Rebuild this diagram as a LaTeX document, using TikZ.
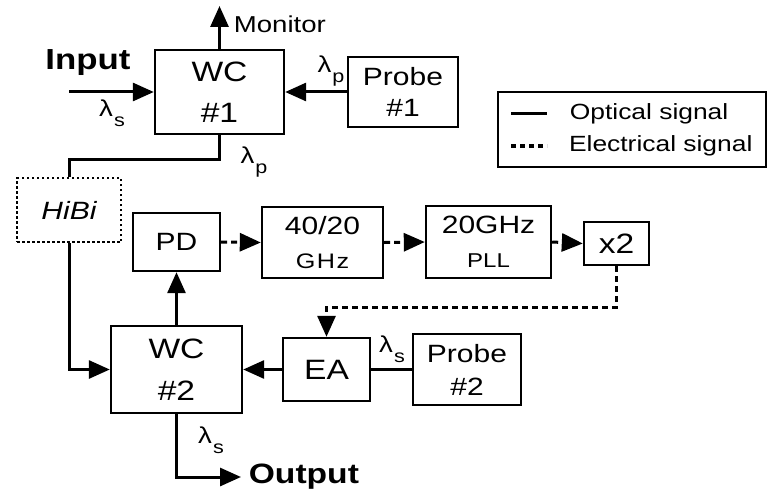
\documentclass[tikz,border=0pt]{standalone}
\usepackage{fontspec}
\setmainfont{Liberation Sans}[FakeStretch=1.2]
\usetikzlibrary{arrows.meta}
\newcommand{\lam}[1]{λ\raisebox{-0.8ex}{\fontsize{18}{18}\selectfont\kern1pt #1}}
\newcommand{\fsz}[1]{\fontsize{#1}{1.4\dimexpr#1pt\relax}\selectfont}

\begin{document}
\begin{tikzpicture}[x=1pt,y=-1pt,line width=3pt,
  >={Triangle[length=21pt,width=18pt]},
  box/.style={draw,line width=2.4pt,align=center,inner sep=0pt},
  elec/.style={dash pattern=on 6pt off 4pt},
  lbl/.style={font=\fsz{23}}]

\useasboundingbox (0,0) rectangle (767,489);

\begin{scope}[every node/.style={box,font=\fsz{28}}]
\node[minimum width=129,minimum height=84] (wc1) at (219.5,92) {WC\\[2pt]\#1};
\node[minimum width=131,minimum height=87] (wc2) at (176.5,369.5) {WC\\[3pt]\#2};
\node[minimum width=87,minimum height=63] (ea) at (326.5,369.5) {EA};
\node[minimum width=65,minimum height=43] (dbl) at (616.5,243.5) {x2};
\end{scope}

\begin{scope}[every node/.style={box,font=\fsz{25}}]
\node[minimum width=110,minimum height=70] (pr1) at (403,92) {Probe\\[-4pt]\#1};
\node[minimum width=108,minimum height=71] (pr2) at (467,369.5) {Probe\\[-2pt]\#2};
\node[minimum width=87,minimum height=58] (pd) at (176.5,242) {PD};
\node[minimum width=121,minimum height=71] (div) at (322.5,242.5)
  {40/20\\[-1pt]{\fsz{21}G\kern1.5pt H\kern1.5pt z}};
\node[minimum width=125,minimum height=72] (pll) at (488.5,242)
  {20GHz\\[-1pt]{\fsz{20}PLL}};
\node[minimum width=104,minimum height=64,dash pattern=on 2.5pt off 2.5pt,
  font=\fsz{25}\itshape] (hibi) at (69,210) {HiBi};
\end{scope}

\coordinate (inp) at (69,92);
\coordinate (mon) at (219.5,6);
\coordinate (out) at (241,477);

\begin{scope}[->]
\draw (inp) -- (wc1.west);
\draw (wc1.north) -- (mon);
\draw (pr1.west) -- (wc1.east);
\draw (hibi.south) |- (wc2.west);
\draw (wc2.north) -- (pd.south);
\draw (ea.west) -- (wc2.east);
\draw (wc2.south) |- (out);
\end{scope}

\draw (wc1.south) -- ++(0,24) -| (hibi.north);
\draw (pr2.west) -- (ea.east);

\begin{scope}[->,elec]
\draw (pd.east) -- (div.west);
\draw (div.east) -- (pll.west);
\draw (pll.east) -- (dbl.west);
\draw (dbl.south) -- ++(0,41) -| (ea.north);
\end{scope}

\node[font=\fsz{23},anchor=west] (monl) at (229,24) {Monitor};
\node[font=\fsz{29}\bfseries] (inl) at (88,63) {Input};
\node[font=\fsz{28}\bfseries,anchor=west] (outl) at (244,477) {Output};

\begin{scope}[lbl]
\node (ls1) at (112,113) {\lam{s}};
\node (lp1) at (331,71) {\lam{p}};
\node (lp2) at (254,162) {\lam{p}};
\node (ls2) at (392,349) {\lam{s}};
\node (ls3) at (211,440) {\lam{s}};
\end{scope}

\node[draw,line width=2.4pt,minimum width=268,minimum height=75] (leg) at (632,129.5) {};
\draw (511,114) -- (547,114) node[font=\fsz{22},anchor=west,xshift=18pt] (opt) {Optical signal};
\draw[line width=3.4pt,dash pattern=on 5pt off 4pt] (511,146) -- (547,146)
  node[font=\fsz{22},anchor=west,xshift=17pt] (ele) {Electrical signal};

\end{tikzpicture}
\end{document}
